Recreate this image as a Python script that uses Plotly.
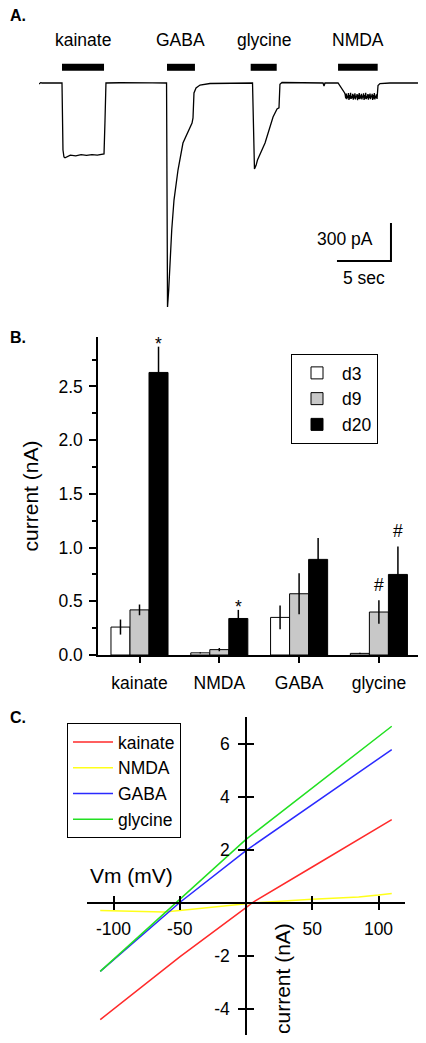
import plotly.graph_objects as go

# page body adds an 8 px margin; size the figure so it fits the 426x1043 window
OFF = 8
W, H = 426 - 2 * OFF, 1043 - 2 * OFF
FONT = "Liberation Sans, Arial, sans-serif"
FS = 17.5
FT = 21  # axis title size

# ---------------- Panel A data: whole-cell current trace (s, pA) ----------------
trace_t = [0.00, 0.15, 0.28, 1.00, 2.13, 2.22, 2.31, 2.41, 2.90, 3.40, 3.90, 4.40, 4.90, 5.40, 5.90,
           6.02, 6.11, 6.20, 7.50, 9.00, 10.50, 11.81, 11.90, 12.01, 12.13, 12.29, 12.50, 12.87,
           13.33, 13.80, 14.17, 14.26, 14.35, 14.54, 14.91, 15.83, 17.50, 19.77, 19.95, 20.10,
           20.23, 20.93, 21.67, 22.04, 22.22, 22.31, 22.50, 24.00, 26.30, 26.39, 26.48, 27.69,
           27.96, 28.30,
           28.35, 28.40, 28.45, 28.50, 28.55, 28.60, 28.65, 28.70, 28.75, 28.80,
           28.85, 28.90, 28.95, 29.00, 29.05, 29.10, 29.15, 29.20, 29.25, 29.30,
           29.35, 29.40, 29.45, 29.50, 29.55, 29.60, 29.65, 29.70, 29.75, 29.80,
           29.85, 29.90, 29.95, 30.00, 30.05, 30.10, 30.15, 30.20, 30.25, 30.30,
           30.35, 30.40, 30.45, 30.50, 30.55, 30.60, 30.65, 30.70, 30.75, 30.80,
           30.85, 30.90, 30.95, 31.00, 31.05, 31.10, 31.15, 31.20, 31.25, 31.30,
           31.39, 31.57, 32.50, 33.50, 35.09]
trace_i = [-8, 3, 0, 1, 0, -529, -584, -590, -570, -575, -566, -572, -565, -570, -562,
           -560, -300, 0, 2, -1, 1, 0, -1768, -1634, -1397, -1161, -924, -687,
           -474, -387, -316, -276, -79, -39, -16, -4, 0, 0, -679, -650,
           -608, -474, -268, -205, -197, -10, 4, 2, 0, -24, 0, 0,
           -32, -79,
           -92, -121, -84, -128, -99, -117, -80, -133, -95, -124,
           -78, -126, -103, -119, -86, -131, -94, -122, -81, -129,
           -101, -113, -87, -135, -93, -125, -79, -127, -97, -121,
           -85, -130, -100, -116, -82, -134, -96, -123, -77, -128,
           -104, -118, -88, -132, -92, -120, -83, -127, -99, -114,
           -86, -133, -95, -124, -80, -129, -102, -117, -89, -126,
           -20, -5, 0, 2, 0]

drugs = ["kainate", "GABA", "glycine", "NMDA"]
app_start = [2.13, 11.85, 19.60, 27.69]
app_end = [6.02, 14.44, 22.01, 31.36]
scale_time = 5      # s
scale_current = 300  # pA

# ---------------- Panel B data ----------------
categories = ["kainate", "NMDA", "GABA", "glycine"]
d3 = [0.26, 0.02, 0.35, 0.015]
d3_err = [0.07, 0.005, 0.11, 0.005]
d9 = [0.42, 0.05, 0.57, 0.40]
d9_err = [0.05, 0.015, 0.19, 0.11]
d20 = [2.63, 0.34, 0.89, 0.75]
d20_err = [0.24, 0.08, 0.20, 0.26]
marks = [("*", "d20", 0), ("*", "d20", 1), ("#", "d9", 3), ("#", "d20", 3)]

# ---------------- Panel C data: I-V curves ----------------
vm_kainate = [-110, -50, 0, 5, 50, 110]
i_kainate = [-4.42, -2.05, -0.19, 0.0, 1.34, 3.13]
vm_nmda = [-110, -80, -62, -50, -30, 0, 10, 50, 85, 100, 110]
i_nmda = [-0.30, -0.33, -0.36, -0.30, -0.20, -0.05, 0.0, 0.12, 0.21, 0.28, 0.34]
vm_gaba = [-110, -50, 0, 110]
i_gaba = [-2.60, 0.0, 1.96, 5.77]
vm_gly = [-110, -53, 0, 110]
i_gly = [-2.60, 0.0, 2.38, 6.65]
vm_ticks = [-100, -50, 50, 100]
i_ticks = [-4, -2, 2, 4, 6]


def px_x(px):
    return (px - OFF) / W


def px_y(py):
    return 1 - (py - OFF) / H


fig = go.Figure()

# ---- Panel A ----
fig.add_trace(go.Scatter(x=trace_t, y=trace_i, mode="lines", line=dict(color="black", width=1.3),
                         xaxis="x", yaxis="y", showlegend=False, hoverinfo="skip"))
APP_LEVEL = 124
for s, e in zip(app_start, app_end):
    fig.add_trace(go.Scatter(x=[s, e], y=[APP_LEVEL, APP_LEVEL], mode="lines",
                             line=dict(color="black", width=7), xaxis="x", yaxis="y",
                             showlegend=False, hoverinfo="skip"))
SB_T, SB_I = 32.59, -1405
fig.add_trace(go.Scatter(x=[SB_T - scale_time, SB_T, SB_T], y=[SB_I, SB_I, SB_I + scale_current],
                         mode="lines", line=dict(color="black", width=2), xaxis="x", yaxis="y",
                         showlegend=False, hoverinfo="skip"))

annotations = []
for name, s, e in zip(drugs, app_start, app_end):
    annotations.append(dict(x=(s + e) / 2, y=340, xref="x", yref="y", text=name, showarrow=False,
                            font=dict(size=FS, color="black"), xanchor="center", yanchor="middle"))
annotations.append(dict(x=SB_T - 1.45, y=SB_I + scale_current / 2 + 20, xref="x", yref="y",
                        text=f"{scale_current} pA", showarrow=False, xanchor="right", yanchor="middle",
                        font=dict(size=FS, color="black")))
annotations.append(dict(x=SB_T - scale_time / 2, y=SB_I, xref="x", yref="y", yshift=-17,
                        text=f"{scale_time} sec", showarrow=False, xanchor="center", yanchor="middle",
                        font=dict(size=FS, color="black")))

# ---- Panel B ----
for name, vals, errs, fill in [("d3", d3, d3_err, "white"), ("d9", d9, d9_err, "#c8c8c8"),
                               ("d20", d20, d20_err, "black")]:
    fig.add_trace(go.Bar(x=categories, y=vals, name=name, xaxis="x2", yaxis="y2",
                         marker=dict(color=fill, line=dict(color="black", width=1)),
                         error_y=dict(type="data", array=errs, color="black", thickness=1.5, width=0),
                         legend="legend"))

series = {"d3": (d3, d3_err), "d9": (d9, d9_err), "d20": (d20, d20_err)}
BARGAP = 0.285
bw = (1 - BARGAP) / 3
offs = {"d3": -bw, "d9": 0.0, "d20": bw}
for sym, s, ci in marks:
    v, e = series[s]
    annotations.append(dict(x=ci + offs[s], y=v[ci] + e[ci], xref="x2", yref="y2", text=sym,
                            showarrow=False, xanchor="center", yanchor="middle",
                            yshift=3 if sym == "*" else 15, font=dict(size=FS, color="black")))

# ---- Panel C ----
for name, xs, ys, col in [("kainate", vm_kainate, i_kainate, "#ff2a2a"),
                          ("NMDA", vm_nmda, i_nmda, "#ffff1a"),
                          ("GABA", vm_gaba, i_gaba, "#2a2aff"),
                          ("glycine", vm_gly, i_gly, "#22e022")]:
    fig.add_trace(go.Scatter(x=xs, y=ys, mode="lines", name=name, line=dict(color=col, width=1.5),
                             xaxis="x3", yaxis="y3", legend="legend2"))
fig.add_trace(go.Scatter(x=[], y=[], xaxis="x4", yaxis="y4", showlegend=False, hoverinfo="skip"))

xr3, yr3 = [-120, 120], [-5, 7]
xd3 = [px_x(87), px_x(405)]
yd3 = [px_y(1035), px_y(717)]
ypos_axis = xd3[0] + (0 - xr3[0]) / (xr3[1] - xr3[0]) * (xd3[1] - xd3[0])
xpos_axis = yd3[0] + (0 - yr3[0]) / (yr3[1] - yr3[0]) * (yd3[1] - yd3[0])

annotations.append(dict(x=px_x(131), y=px_y(875), xref="paper", yref="paper", text="Vm (mV)",
                        showarrow=False, xanchor="center", yanchor="middle",
                        font=dict(size=FT, color="black")))
annotations.append(dict(x=px_x(282), y=px_y(979), xref="paper", yref="paper", text="current (nA)",
                        showarrow=False, textangle=-90, xanchor="center", yanchor="middle",
                        font=dict(size=FT, color="black")))

for lab, py in [("A.", 15), ("B.", 337), ("C.", 717)]:
    annotations.append(dict(x=px_x(8), y=px_y(py), xref="paper", yref="paper", text=f"<b>{lab}</b>",
                            showarrow=False, xanchor="left", yanchor="middle",
                            font=dict(size=16, color="black")))

axis_common = dict(showgrid=False, zeroline=False, linecolor="black", linewidth=1.5, automargin=False,
                   tickcolor="black", tickwidth=1.5, tickfont=dict(size=FS, color="black"))

fig.update_layout(
    template="none",
    width=W, height=H, margin=dict(l=0, r=0, t=0, b=0, autoexpand=False),
    paper_bgcolor="white", plot_bgcolor="white",
    font=dict(family=FONT, size=FS, color="black"),
    barmode="group", bargap=BARGAP, bargroupgap=0,
    xaxis=dict(domain=[px_x(39), px_x(418)], range=[0, (418 - 39) / 10.8], visible=False, anchor="y",
               automargin=False),
    yaxis=dict(domain=[px_y(320), px_y(25)], range=[-(320 - 83) * 7.895, (83 - 25) * 7.895],
               visible=False, anchor="x", automargin=False),
    xaxis2=dict(domain=[px_x(98), px_x(418)], type="category", range=[-0.52, 3.49], anchor="y2",
                showline=True, ticks="outside", ticklen=6, ticklabelstandoff=5, **axis_common),
    yaxis2=dict(domain=[px_y(655), px_y(337)], range=[0, 2.96], anchor="x2", showline=True,
                ticks="outside", ticklen=7, dtick=0.5, tick0=0, tickformat=".1f",
                ticklabelstandoff=3,
                minor=dict(dtick=0.25, ticks="outside", ticklen=4, tickcolor="black", tickwidth=1.5),
                title=dict(text="current (nA)", font=dict(size=FT, color="black"), standoff=14),
                **axis_common),
    xaxis3=dict(domain=xd3, range=xr3, anchor="free", position=xpos_axis, showline=True,
                tickmode="array", tickvals=vm_ticks, ticktext=[str(v) for v in vm_ticks],
                ticks="outside", ticklen=7, ticklabelstandoff=4, **axis_common),
    yaxis3=dict(domain=yd3, range=yr3, anchor="free", position=ypos_axis, showline=True,
                tickmode="array", tickvals=i_ticks, ticktext=[str(v) for v in i_ticks],
                ticks="outside", ticklen=7, ticklabelstandoff=5, **axis_common),
    xaxis4=dict(range=xr3, overlaying="x3", anchor="free", position=xpos_axis, showline=False,
                tickmode="array", tickvals=vm_ticks, ticks="inside", ticklen=7, showticklabels=False,
                showgrid=False, zeroline=False, tickcolor="black", tickwidth=1.5, automargin=False),
    yaxis4=dict(range=yr3, overlaying="y3", anchor="free", position=ypos_axis, showline=False,
                tickmode="array", tickvals=i_ticks, ticks="inside", ticklen=7, showticklabels=False,
                showgrid=False, zeroline=False, tickcolor="black", tickwidth=1.5, automargin=False),
    legend=dict(x=px_x(291), y=px_y(354), xanchor="left", yanchor="top", bgcolor="white",
                bordercolor="black", borderwidth=1, font=dict(size=FS, color="black"),
                itemwidth=40, tracegroupgap=0),
    legend2=dict(x=px_x(67), y=px_y(723), xanchor="left", yanchor="top", bgcolor="white",
                 bordercolor="black", borderwidth=1, font=dict(size=FS, color="black"),
                 itemwidth=40, tracegroupgap=0),
    annotations=annotations,
)

fig.write_html("out.html")
